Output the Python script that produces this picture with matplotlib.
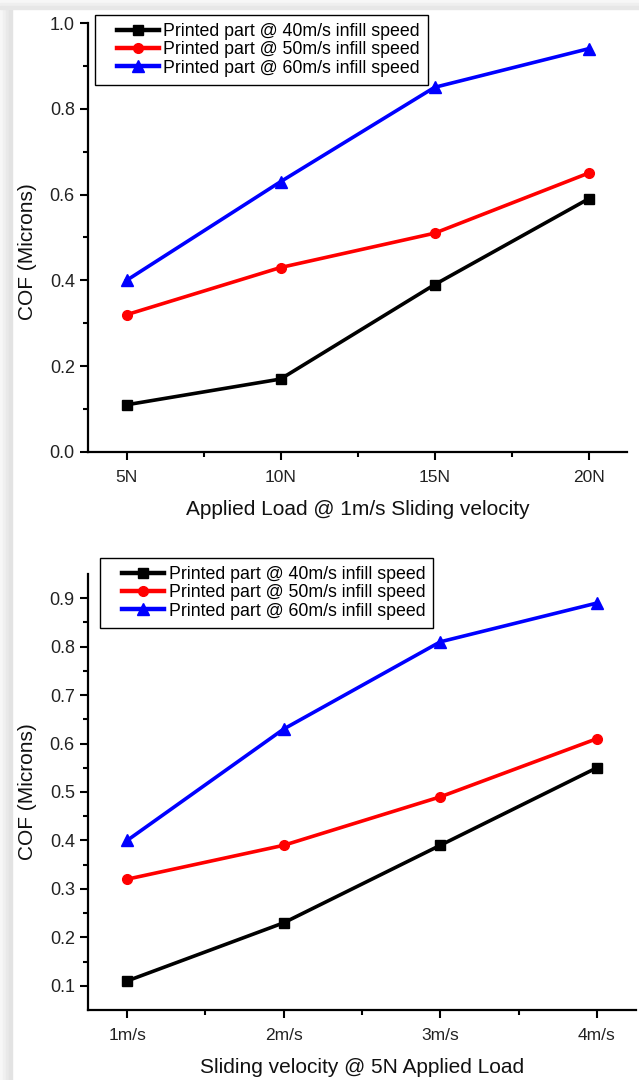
import numpy as np
import matplotlib
matplotlib.use("Agg")
import matplotlib.pyplot as plt
from matplotlib.patches import Rectangle
from matplotlib.legend_handler import HandlerLine2D

plt.rcParams['font.family'] = ['Liberation Sans', 'DejaVu Sans']

# data
loads = ['5N', '10N', '15N', '20N']
velocities = ['1m/s', '2m/s', '3m/s', '4m/s']
series_names = ['Printed part @ 40m/s infill speed',
                'Printed part @ 50m/s infill speed',
                'Printed part @ 60m/s infill speed']

load_40 = [0.11, 0.17, 0.39, 0.59]
load_50 = [0.32, 0.43, 0.51, 0.65]
load_60 = [0.40, 0.63, 0.85, 0.94]

vel_40 = [0.11, 0.23, 0.39, 0.55]
vel_50 = [0.32, 0.39, 0.49, 0.61]
vel_60 = [0.40, 0.63, 0.81, 0.89]

colors = ['black', '#ff0000', '#0000ff']
markers = ['s', 'o', '^']
msizes = [7, 7, 8.5]

W, H = 639, 1080
fig = plt.figure(figsize=(W / 100, H / 100), dpi=100)

# page shadow on the left/top edge
for i, c in enumerate(['#f7f7f7', '#f0f0f0', '#e9e9e9', '#e3e3e3']):
    fig.patches.append(Rectangle((i * 3 / W, 0), 3 / W, 1 - 9 / H,
                                 transform=fig.transFigure, color=c, zorder=0))
for i, c in enumerate(['#f7f7f7', '#efefef', '#e7e7e7']):
    fig.patches.append(Rectangle((0, 1 - (i + 1) * 3 / H), 1, 3 / H,
                                 transform=fig.transFigure, color=c, zorder=0))


def px_axes(left, top, right, bottom):
    return fig.add_axes([left / W, 1 - bottom / H, (right - left) / W, (bottom - top) / H])


def style(ax, xlabels, xlabel, ylim, major, minor, ylab_x, ylab_y):
    x = np.arange(1, len(xlabels) + 1)
    ax.set_xlim(0.75, 4.25)
    ax.set_ylim(*ylim)
    ax.set_xticks(x)
    ax.set_xticklabels(xlabels)
    ax.set_xticks(x[:-1] + 0.5, minor=True)
    ax.set_yticks(major)
    ax.set_yticks(minor, minor=True)
    ax.yaxis.set_major_formatter(plt.FormatStrFormatter('%.1f'))
    for s in ['top', 'right']:
        ax.spines[s].set_visible(False)
    for s in ['left', 'bottom']:
        ax.spines[s].set_linewidth(1.6)
    ax.tick_params(which='major', length=6, width=1.5, labelsize=13, color='black',
                   labelcolor='#222222')
    ax.tick_params(which='minor', length=3.5, width=1.5)
    ax.tick_params(axis='x', which='major', pad=7)
    for t in ax.get_xticklabels():
        t.set_fontsize(12.5)
    ax.set_xlabel(xlabel, fontsize=15, labelpad=11, color='#111111')
    ax.set_ylabel('COF (Microns)', fontsize=15, color='#111111')
    ax.yaxis.set_label_coords(ylab_x, ylab_y)


def draw(ax, ys, anchor):
    x = np.arange(1, 5)
    for y, c, m, ms, name in zip(ys, colors, markers, msizes, series_names):
        ax.plot(x, y, color=c, marker=m, markersize=ms, linewidth=2.6,
                label=name, clip_on=False)
    leg = ax.legend(loc='upper left', bbox_to_anchor=anchor, fontsize=12.8,
                    frameon=True, fancybox=False, framealpha=1, edgecolor='black',
                    handlelength=3.15, handletextpad=0.25, borderpad=0.45,
                    labelspacing=0.08, borderaxespad=0,
                    handler_map={plt.Line2D: HandlerLine2D(xpad=0.8)})
    leg.get_frame().set_linewidth(1.0)
    for ln in leg.get_lines():
        ln.set_linewidth(3.2)


ax1 = px_axes(88, 23, 627, 452)
draw(ax1, [load_40, load_50, load_60], (0.013, 1.019))
style(ax1, loads, 'Applied Load @ 1m/s Sliding velocity', (0, 1.0),
      np.arange(0, 1.01, 0.2), np.arange(0.1, 1.0, 0.2), -0.095, 0.466)

ax2 = px_axes(88, 574, 636, 1010)
draw(ax2, [vel_40, vel_50, vel_60], (0.022, 1.037))
style(ax2, velocities, 'Sliding velocity @ 5N Applied Load', (0.05, 0.95),
      np.arange(0.1, 0.91, 0.1), np.arange(0.15, 0.95, 0.1), -0.093, 0.5)

fig.savefig('out.png', dpi=100)
